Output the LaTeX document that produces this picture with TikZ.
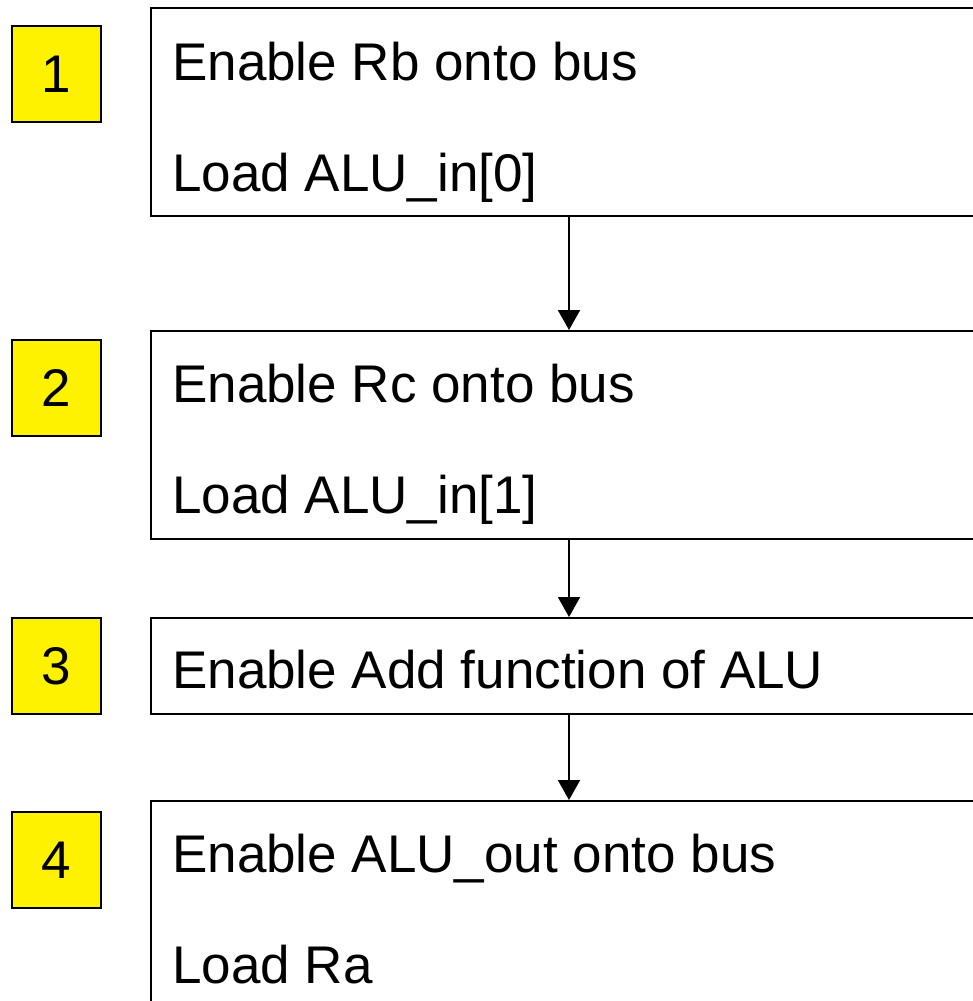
\documentclass[tikz,border=0pt]{standalone}
\usepackage{fontspec}
\setmainfont{Liberation Sans}
\usetikzlibrary{arrows.meta}
\begin{document}
\begin{tikzpicture}[x=1pt,y=-1pt,
  mainbox/.style={draw=black, line width=2pt, fill=white, minimum width=836pt, anchor=north west, inner sep=0pt},
  numbox/.style={draw=black, line width=2pt, fill=yellow, minimum width=89pt, minimum height=96pt, inner sep=0pt, font=\fontsize{53}{60}\selectfont},
  txt/.style={anchor=base west, inner sep=0pt, font=\fontsize{53}{60}\selectfont},
  arr/.style={draw=black, line width=2pt, -{Triangle[width=22pt,length=20pt]}}]
\useasboundingbox (0,0) rectangle (973,1001);
\clip (0,0) rectangle (973,1001);
\fill[white] (0,0) rectangle (973,1001);
% main boxes
\node[mainbox, minimum height=208pt] (b1) at (150,7) {};
\node[mainbox, minimum height=208pt] (b2) at (150,330) {};
\node[mainbox, minimum height=96pt] (b3) at (150,617) {};
\node[mainbox, minimum height=240pt] (b4) at (150,800) {};
% texts
\node[txt] (t1a) at (172,80) {Enable Rb onto bus};
\node[txt] (t1b) at (172,191) {Load ALU\_in[0]};
\node[txt] (t2a) at (172,402) {Enable Rc onto bus};
\node[txt] (t2b) at (172,513) {Load ALU\_in[1]};
\node[txt] (t3a) at (172,688) {Enable Add function of ALU};
\node[txt] (t4a) at (172,872) {Enable ALU\_out onto bus};
\node[txt] (t4b) at (172,983) {Load Ra};
% number boxes
\node[numbox] (n1) at (56,74) {1};
\node[numbox] (n2) at (56,388) {2};
\node[numbox] (n3) at (56,666) {3};
\node[numbox] (n4) at (56,860) {4};
% arrows
\draw[arr] (b1.south) -- (b2.north);
\draw[arr] (b2.south) -- (b3.north);
\draw[arr] (b3.south) -- (b4.north);
\end{tikzpicture}
\end{document}
